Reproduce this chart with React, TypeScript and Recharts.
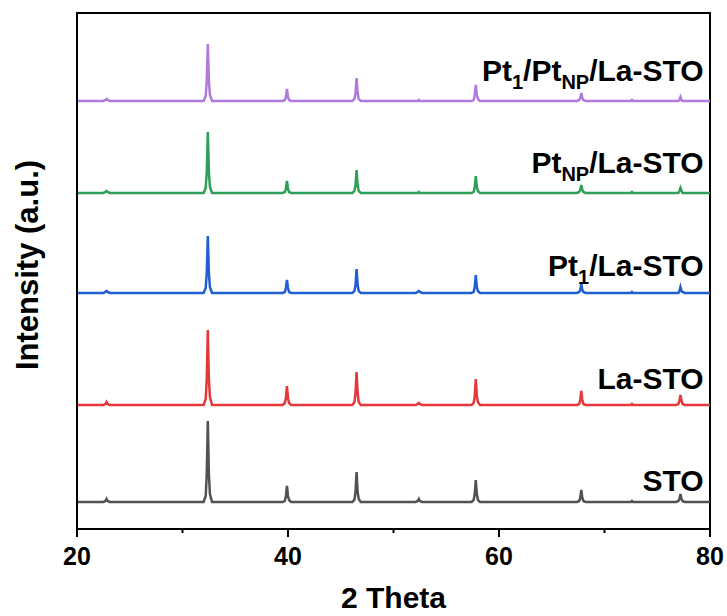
import { LineChart, Line, XAxis, YAxis, ReferenceArea, ReferenceDot } from "recharts";

// 2-theta sample positions (deg)
const THETA = [
  20,
  22.5, 22.7, 22.8, 22.9, 23.1,
  32.0, 32.2, 32.3, 32.4, 32.5, 32.6, 32.8,
  39.5, 39.7, 39.8, 39.9, 40.0, 40.1, 40.3,
  46.1, 46.3, 46.4, 46.5, 46.6, 46.7, 46.9,
  52.1, 52.3, 52.4, 52.5, 52.7,
  57.4, 57.6, 57.7, 57.8, 57.9, 58.0, 58.2,
  67.4, 67.6, 67.7, 67.8, 67.9, 68.0, 68.2,
  72.3, 72.5, 72.6, 72.7, 72.9,
  76.8, 77.0, 77.1, 77.2, 77.3, 77.4, 77.6,
  80,
];

// intensities above each pattern's own baseline (a.u.)
const STO = [0, 0, 1, 3, 1, 0, 0, 6, 28, 81, 28, 8, 0, 0, 1, 6, 16, 6, 2, 0, 0, 2, 10, 30, 10, 3, 0, 0, 1, 3, 1, 0, 0, 2, 8, 22, 8, 2, 0, 0, 1, 4, 12, 4, 1, 0, 0, 0, 1, 0, 0, 0, 1, 3, 8, 3, 1, 0, 0];
const LA_STO = [0, 0, 1, 3, 1, 0, 0, 6, 26, 75, 26, 8, 0, 0, 2, 7, 19, 7, 2, 0, 0, 3, 12, 33, 12, 3, 0, 0, 1, 2, 1, 0, 0, 2, 9, 26, 9, 3, 0, 0, 1, 5, 14, 5, 1, 0, 0, 0, 1, 0, 0, 0, 1, 4, 10, 4, 1, 0, 0];
const PT1_LA_STO = [0, 0, 1, 2, 1, 0, 0, 5, 20, 57, 20, 6, 0, 0, 1, 5, 13, 5, 1, 0, 0, 2, 8, 24, 8, 2, 0, 0, 1, 2, 1, 0, 0, 1, 6, 18, 6, 2, 0, 0, 1, 3, 9, 3, 1, 0, 0, 0, 1, 0, 0, 0, 0, 2, 6, 2, 1, 0, 0];
const PTNP_LA_STO = [0, 0, 1, 2, 1, 0, 0, 5, 21, 61, 21, 6, 0, 0, 1, 4, 12, 4, 1, 0, 0, 2, 8, 23, 8, 2, 0, 0, 0, 1, 0, 0, 0, 1, 6, 17, 6, 2, 0, 0, 1, 3, 8, 3, 1, 0, 0, 0, 1, 0, 0, 0, 0, 2, 5, 2, 0, 0, 0];
const PT1_PTNP_LA_STO = [0, 0, 1, 2, 1, 0, 0, 5, 20, 57, 20, 6, 0, 0, 1, 4, 12, 4, 1, 0, 0, 2, 8, 23, 8, 2, 0, 0, 0, 1, 0, 0, 0, 1, 6, 16, 6, 2, 0, 0, 1, 3, 8, 3, 1, 0, 0, 0, 1, 0, 0, 0, 0, 1, 4, 1, 0, 0, 0];

// vertical stacking offsets
const OFFSETS = [27, 124, 236, 336, 428];
const KEYS = ["sto", "lasto", "pt1", "ptnp", "pt1ptnp"];
const COLORS = ["#525252", "#e5383b", "#1f5fd1", "#2e9e58", "#b07ae0"];
const SERIES = [STO, LA_STO, PT1_LA_STO, PTNP_LA_STO, PT1_PTNP_LA_STO];

// label text pieces: [text, isSubscript]
const LABELS: [string, boolean][][] = [
  [["STO", false]],
  [["La-STO", false]],
  [["Pt", false], ["1", true], ["/La-STO", false]],
  [["Pt", false], ["NP", true], ["/La-STO", false]],
  [["Pt", false], ["1", true], ["/Pt", false], ["NP", true], ["/La-STO", false]],
];
const LABEL_Y = [49, 151, 264, 367, 459];
const LABEL_X = 79.4;

const X_TICKS = [20, 30, 40, 50, 60, 70, 80];
const MAJOR = [20, 40, 60, 80];

const data = THETA.map((t, i) => {
  const row: Record<string, number> = { theta: t };
  KEYS.forEach((k, s) => (row[k] = SERIES[s][i] + OFFSETS[s]));
  return row;
});

const FONT = "'Liberation Sans', Arial, sans-serif";

const XTick = (props: any) => {
  const { x, y, payload } = props;
  const major = MAJOR.includes(payload.value);
  return (
    <g>
      <line x1={x} x2={x} y1={y} y2={y + (major ? 8 : 4)} stroke="#000" strokeWidth={2} />
      {major && (
        <text x={x} y={y + 36} textAnchor="middle" fontFamily={FONT} fontWeight="bold" fontSize={25} fill="#000">
          {payload.value}
        </text>
      )}
    </g>
  );
};

const SeriesLabel = (props: any) => {
  const { viewBox, parts } = props;
  const x = viewBox.x + (viewBox.width || 0) / 2;
  const y = viewBox.y + (viewBox.height || 0) / 2 + 11;
  return (
    <text x={x} y={y} textAnchor="end" fontFamily={FONT} fontWeight="bold" fontSize={30} fill="#000">
      {parts.map(([txt, sub]: [string, boolean], i: number) => {
        const prevSub = i > 0 && parts[i - 1][1];
        const dy = sub ? 8 : prevSub ? -8 : 0;
        return (
          <tspan key={i} dy={dy} fontSize={sub ? 20 : 30}>
            {txt}
          </tspan>
        );
      })}
    </text>
  );
};

const XLabel = (props: any) => {
  const { viewBox } = props;
  return (
    <text x={viewBox.x + viewBox.width / 2} y={608} textAnchor="middle" fontFamily={FONT} fontWeight="bold" fontSize={30} fill="#000">
      2 Theta
    </text>
  );
};

const YLabel = (props: any) => {
  const { viewBox } = props;
  const cx = 38;
  const cy = viewBox.y + viewBox.height / 2 - 6;
  return (
    <text x={cx} y={cy} transform={`rotate(-90, ${cx}, ${cy})`} textAnchor="middle" fontFamily={FONT} fontWeight="bold" fontSize={31} fill="#000">
      Intensity (a.u.)
    </text>
  );
};

export default function App() {
  return (
    <div style={{ width: 727, height: 616, background: "#fff" }}>
      <style>{`body{margin:0}`}</style>
      <LineChart width={727} height={616} data={data} margin={{ top: 13, right: 17, left: 0, bottom: 0 }}>
        <XAxis
          dataKey="theta"
          type="number"
          domain={[20, 80]}
          ticks={X_TICKS}
          allowDataOverflow
          height={87}
          axisLine={{ stroke: "#000", strokeWidth: 2 }}
          tickLine={false}
          tickSize={0}
          tickMargin={0}
          tick={<XTick />}
          interval={0}
          label={<XLabel />}
        />
        <YAxis
          type="number"
          domain={[0, 516]}
          allowDataOverflow
          width={77}
          tick={false}
          tickLine={false}
          axisLine={{ stroke: "#000", strokeWidth: 2 }}
          label={<YLabel />}
        />
        <ReferenceArea x1={20} x2={80} y1={0} y2={516} fill="none" stroke="#000" strokeWidth={2} />
        {KEYS.map((k, i) => (
          <Line
            key={k}
            dataKey={k}
            type="linear"
            stroke={COLORS[i]}
            strokeWidth={2.5}
            dot={false}
            isAnimationActive={false}
          />
        ))}
        {LABELS.map((parts, i) => (
          <ReferenceDot
            key={i}
            x={LABEL_X}
            y={LABEL_Y[i]}
            r={0}
            fill="none"
            stroke="none"
            label={<SeriesLabel parts={parts} />}
          />
        ))}
      </LineChart>
    </div>
  );
}
